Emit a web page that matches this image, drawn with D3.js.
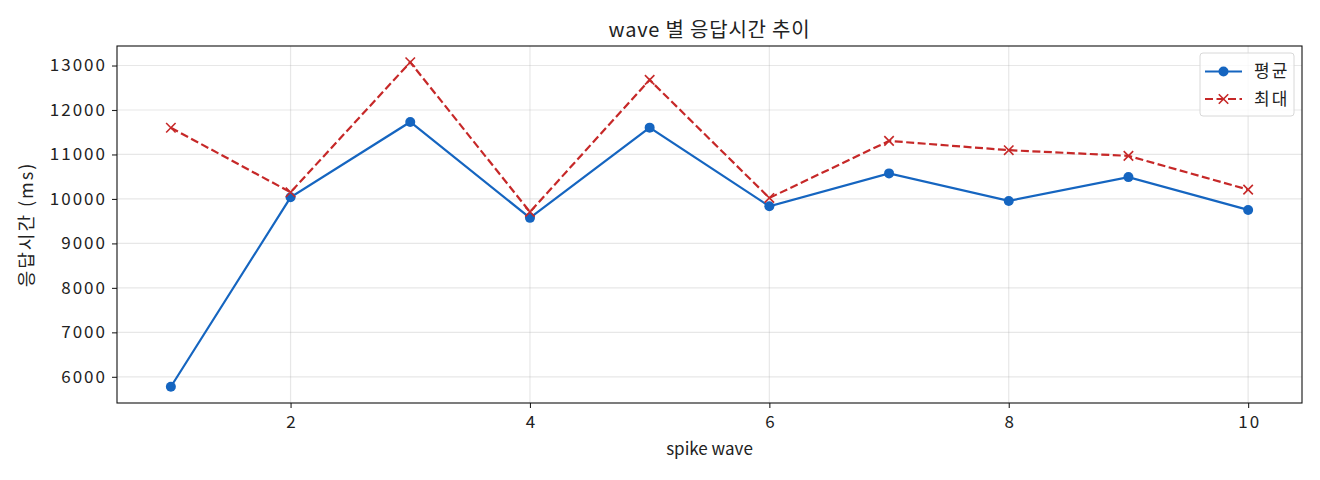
<!DOCTYPE html>
<html>
<head>
<meta charset="utf-8">
<script src="https://cdn.jsdelivr.net/npm/d3@7"></script>
<style>
  body { margin: 0; background: #fff; }
  text { font-family: "Noto Sans CJK KR", "Noto Sans", sans-serif; fill: #222; }
</style>
</head>
<body>
<div id="chart"></div>
<script>
// data
const waves = [1, 2, 3, 4, 5, 6, 7, 8, 9, 10];
const avgMs = [5776, 10036, 11731, 9574, 11603, 9834, 10574, 9955, 10491, 9753];
const maxMs = [11600, 10150, 13074, 9708, 12677, 10022, 11305, 11096, 10969, 10209];
const xTicks = [2, 4, 6, 8, 10];
const yTicks = [6000, 7000, 8000, 9000, 10000, 11000, 12000, 13000];
const seriesNames = ["평균", "최대"];

const W = 1320, H = 480;
const margin = {top: 46, right: 18, bottom: 77, left: 117};
const width = W - margin.left - margin.right;
const height = H - margin.top - margin.bottom;

const blue = "#1565c0", red = "#c62828";

const svg = d3.select("#chart").append("svg")
    .attr("width", W)
    .attr("height", H);

const g = svg.append("g")
    .attr("transform", `translate(${margin.left},${margin.top})`);

// matplotlib-style 5% padding on both axes
const xPad = (d3.max(waves) - d3.min(waves)) * 0.05;
const x = d3.scaleLinear()
    .domain([d3.min(waves) - xPad, d3.max(waves) + xPad])
    .range([0, width]);

const allY = avgMs.concat(maxMs);
const yPad = (d3.max(allY) - d3.min(allY)) * 0.05;
const y = d3.scaleLinear()
    .domain([d3.min(allY) - yPad, d3.max(allY) + yPad])
    .range([height, 0]);

// grid
g.append("g")
    .selectAll("line")
    .data(xTicks)
    .join("line")
    .attr("x1", d => x(d)).attr("x2", d => x(d))
    .attr("y1", 0).attr("y2", height)
    .attr("stroke", "#b0b0b0").attr("stroke-opacity", 0.3).attr("stroke-width", 1.2);

g.append("g")
    .selectAll("line")
    .data(yTicks)
    .join("line")
    .attr("x1", 0).attr("x2", width)
    .attr("y1", d => y(d)).attr("y2", d => y(d))
    .attr("stroke", "#b0b0b0").attr("stroke-opacity", 0.3).attr("stroke-width", 1.2);

// axes
const xAxis = g.append("g")
    .attr("transform", `translate(0,${height})`)
    .call(d3.axisBottom(x).tickValues(xTicks).tickSize(5).tickPadding(8).tickFormat(d3.format("d")));
const yAxis = g.append("g")
    .call(d3.axisLeft(y).tickValues(yTicks).tickSize(5).tickPadding(5).tickFormat(d3.format("d")));

[xAxis, yAxis].forEach(a => {
    a.select(".domain").remove();
    a.selectAll("line").attr("stroke", "#222").attr("stroke-width", 1.1);
    a.selectAll("text").attr("font-size", 17).attr("fill", "#222")
        .attr("letter-spacing", 2)
        .attr("font-family", "\"Noto Sans CJK KR\", sans-serif");
});
xAxis.selectAll("text").attr("dx", 1);

// frame
g.append("rect")
    .attr("width", width).attr("height", height)
    .attr("fill", "none").attr("stroke", "#111").attr("stroke-width", 1.1);

// lines
const line = d3.line()
    .x((d, i) => x(waves[i]))
    .y(d => y(d));

g.append("path")
    .datum(avgMs)
    .attr("d", line)
    .attr("fill", "none").attr("stroke", blue).attr("stroke-width", 2.2);

g.append("g")
    .selectAll("circle")
    .data(avgMs)
    .join("circle")
    .attr("cx", (d, i) => x(waves[i]))
    .attr("cy", d => y(d))
    .attr("r", 5)
    .attr("fill", blue);

g.append("path")
    .datum(maxMs)
    .attr("d", line)
    .attr("fill", "none").attr("stroke", red).attr("stroke-width", 2.2)
    .attr("stroke-dasharray", "8,3.5");

const cross = d3.symbol().type(d3.symbolX).size(60);
g.append("g")
    .selectAll("path")
    .data(maxMs)
    .join("path")
    .attr("transform", (d, i) => `translate(${x(waves[i])},${y(d)})`)
    .attr("d", cross)
    .attr("fill", "none").attr("stroke", red).attr("stroke-width", 1.6);

// title and axis labels
svg.append("text")
    .attr("x", margin.left + width / 2).attr("y", 37)
    .attr("text-anchor", "middle")
    .attr("font-size", 20)
    .attr("letter-spacing", 0.8)
    .text("wave 별 응답시간 추이");

svg.append("text")
    .attr("x", margin.left + width / 2).attr("y", 455)
    .attr("text-anchor", "middle")
    .attr("font-size", 17)
    .text("spike wave");

svg.append("text")
    .attr("transform", `translate(33,${margin.top + height / 2}) rotate(-90)`)
    .attr("text-anchor", "middle")
    .attr("font-size", 18)
    .attr("letter-spacing", 2)
    .text("응답시간 (ms)");

// legend
const legend = g.append("g")
    .attr("transform", `translate(${width - 102},7)`);

legend.append("rect")
    .attr("width", 94).attr("height", 63).attr("rx", 3)
    .attr("fill", "#fff").attr("fill-opacity", 0.8)
    .attr("stroke", "#d8d8d8").attr("stroke-width", 1);

const rows = legend.selectAll(".row")
    .data(seriesNames)
    .join("g")
    .attr("class", "row")
    .attr("transform", (d, i) => `translate(0,${18.5 + i * 27.5})`);

rows.append("line")
    .attr("x1", 5).attr("x2", 42)
    .attr("stroke", (d, i) => i === 0 ? blue : red)
    .attr("stroke-width", 2.2)
    .attr("stroke-dasharray", (d, i) => i === 0 ? null : "8,3.5");

rows.filter((d, i) => i === 0).append("circle")
    .attr("cx", 23.5).attr("r", 5).attr("fill", blue);

rows.filter((d, i) => i === 1).append("path")
    .attr("transform", "translate(23.5,0)")
    .attr("d", cross)
    .attr("fill", "none").attr("stroke", red).attr("stroke-width", 1.6);

rows.append("text")
    .attr("x", 54).attr("dy", "0.35em")
    .attr("font-size", 17)
    .attr("letter-spacing", 2)
    .text(d => d);
</script>
</body>
</html>
